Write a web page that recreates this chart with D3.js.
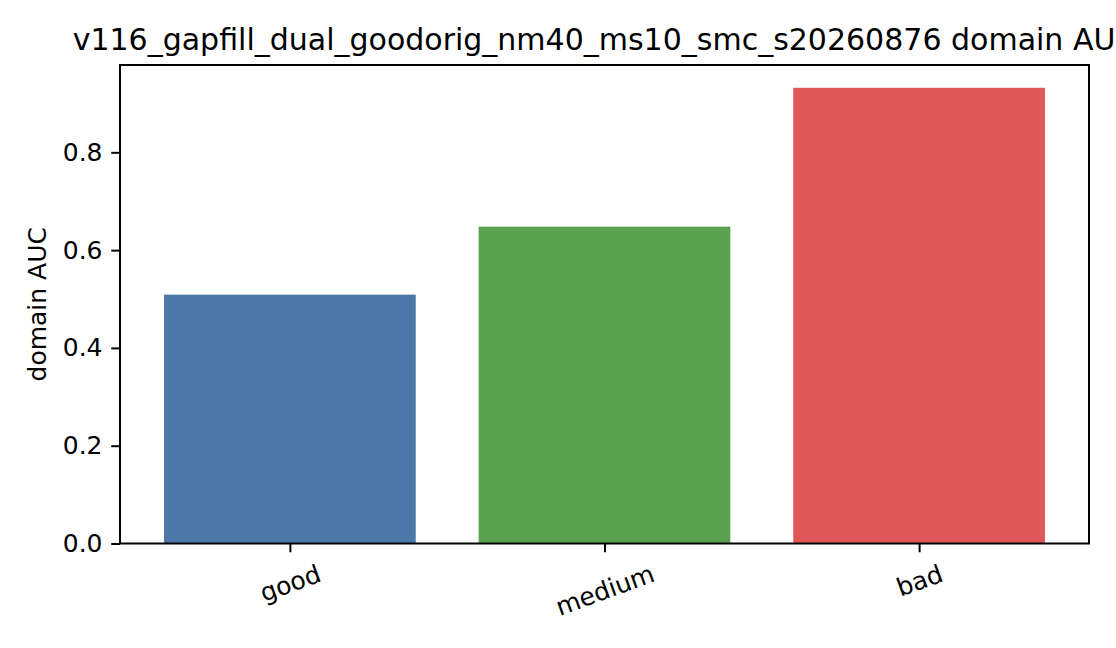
<!DOCTYPE html>
<html>
<head>
<meta charset="utf-8">
<script src="https://cdn.jsdelivr.net/npm/d3@7"></script>
<style>
  body { margin: 0; background: #fff; }
  svg { display: block; font-family: "DejaVu Sans", sans-serif; }
</style>
</head>
<body>
<svg id="chart"></svg>
<script>
// values
const categories = ['good', 'medium', 'bad']
const aucValues = [0.509, 0.648, 0.932]
const barColors = ['#4c78a8', '#59a14f', '#e15759']
const yTicks = [0.0, 0.2, 0.4, 0.6, 0.8]
const titleText = 'v116_gapfill_dual_goodorig_nm40_ms10_smc_s20260876 domain AUC'

const width = 1116
const height = 648
const margin = { top: 65, right: 27, bottom: 104.5, left: 120 }

const svg = d3.select('#chart')
    .attr('width', width)
    .attr('height', height)

const x0 = margin.left
const x1 = width - margin.right
const y0 = height - margin.bottom
const y1 = margin.top

// matplotlib style: bar width 0.8, 5% margins on both axes
const x = d3.scaleLinear()
    .domain([-0.54, categories.length - 1 + 0.54])
    .range([x0, x1])

const y = d3.scaleLinear()
    .domain([0, d3.max(aucValues) * 1.05])
    .range([y0, y1])

// bars
svg.selectAll('rect.bar')
    .data(aucValues)
    .enter()
    .append('rect')
    .attr('class', 'bar')
    .attr('x', (d, i) => x(i - 0.4))
    .attr('width', (d, i) => x(i + 0.4) - x(i - 0.4))
    .attr('y', d => y(d))
    .attr('height', d => y(0) - y(d))
    .attr('fill', (d, i) => barColors[i])

// y axis
const yAxis = svg.append('g')
    .attr('transform', `translate(${x0},0)`)
    .call(d3.axisLeft(y).tickValues(yTicks).tickFormat(d3.format('.1f'))
        .tickSize(8.75).tickPadding(8.75))
yAxis.select('.domain').remove()
yAxis.selectAll('line').attr('stroke', '#000').attr('stroke-width', 2)
yAxis.selectAll('text').attr('font-size', 25).attr('fill', '#000')
    .attr('font-family', '"DejaVu Sans", sans-serif')

// x axis ticks
const xAxis = svg.append('g')
    .attr('transform', `translate(0,${y0})`)
    .call(d3.axisBottom(x).tickValues(d3.range(categories.length))
        .tickFormat(i => categories[i]).tickSize(8.75).tickPadding(8.75))
xAxis.select('.domain').remove()
xAxis.selectAll('line').attr('stroke', '#000').attr('stroke-width', 2)

// rotated tick labels: rotate, then align the rotated box (centre / top)
const rot = 20 * Math.PI / 180
xAxis.selectAll('text')
    .attr('font-size', 25)
    .attr('fill', '#000')
    .attr('font-family', '"DejaVu Sans", sans-serif')
    .attr('dy', null)
    .attr('y', null)
    .attr('dominant-baseline', 'central')
    .each(function (i) {
        const t = d3.select(this)
        const w = this.getComputedTextLength()
        const h = 25 * 1.0
        const boxH = w * Math.sin(rot) + h * Math.cos(rot)
        const cy = 8.75 + 8.75 + boxH / 2
        t.attr('transform', `translate(0,${cy}) rotate(-20)`)
    })

// frame
svg.append('rect')
    .attr('x', x0)
    .attr('y', y1)
    .attr('width', x1 - x0)
    .attr('height', y0 - y1)
    .attr('fill', 'none')
    .attr('stroke', '#000')
    .attr('stroke-width', 2)

// y label
svg.append('text')
    .attr('transform', `translate(46,${(y0 + y1) / 2}) rotate(-90)`)
    .attr('text-anchor', 'middle')
    .attr('font-size', 25)
    .attr('fill', '#000')
    .text('domain AUC')

// title (runs off the right edge, as in the original)
svg.append('text')
    .attr('x', (x0 + x1) / 2)
    .attr('y', 50)
    .attr('text-anchor', 'middle')
    .attr('font-size', 30)
    .attr('fill', '#000')
    .text(titleText)
</script>
</body>
</html>
